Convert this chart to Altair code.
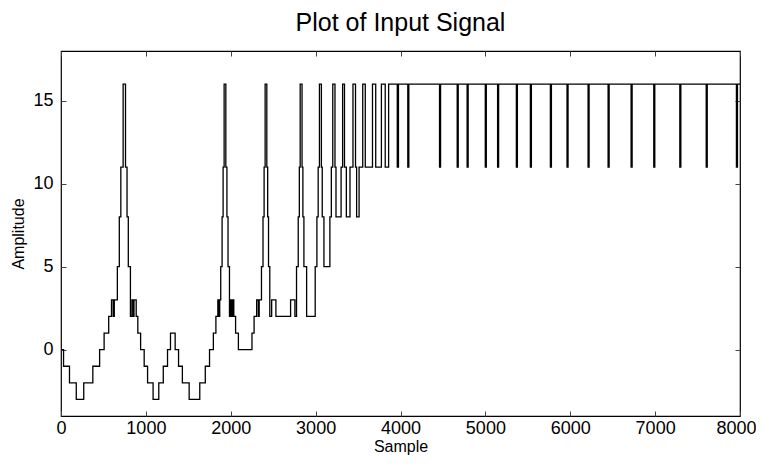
import altair as alt
import pandas as pd

# Step signal: sample index where each level starts, and the level value
starts = [0, 30, 100, 180, 268, 375, 455, 508, 562, 595, 615, 628, 664, 687, 705, 732,
          760, 778, 793, 818, 836, 852, 860, 886, 905, 938, 980, 1020, 1085, 1152, 1205,
          1255, 1290, 1345, 1385, 1430, 1510, 1635, 1700, 1750, 1795, 1825, 1848, 1862,
          1870, 1882, 1898, 1910, 1922, 1942, 1955, 1968, 1985, 2000, 2015, 2022, 2036,
          2057, 2090, 2250, 2275, 2305, 2325, 2335, 2362, 2380, 2393, 2405, 2425, 2435,
          2445, 2460, 2482, 2532, 2705, 2756, 2775, 2795, 2808, 2818, 2840, 2850, 2862,
          2894, 2995, 3015, 3030, 3045, 3068, 3078, 3098, 3168, 3185, 3202, 3228, 3240,
          3300, 3318, 3340, 3362, 3405, 3440, 3470, 3483, 3512, 3555, 3585, 3670, 3708,
          3775, 3820, 3860, 3962, 3976,
          4086, 4098, 4460, 4472, 4668, 4680, 4785, 4797, 4999, 5011, 5144, 5156,
          5365, 5377, 5530, 5542, 5766, 5778, 5962, 5974, 6210, 6222, 6446, 6458,
          6717, 6729, 6984, 6996, 7291, 7303, 7602, 7614, 7958, 7970, 8000]
levels = [0, -1, -2, -3, -2, -1, 0, 1, 2, 3, 2, 3, 5, 8, 11, 16,
          11, 8, 5, 2, 3, 2, 3, 2, 1, 0, -1, -2, -3, -2, -1,
          0, 1, 0, -1, -2, -3, -2, -1, 0, 1, 2, 3, 2,
          3, 5, 8, 11, 16, 11, 8, 5, 2, 3, 2, 3, 2,
          1, 0, 1, 2, 3, 2, 3, 5, 8, 11, 16, 11, 8,
          5, 2, 3, 2, 3, 2, 5, 8, 11, 16, 11, 8, 5,
          2, 5, 8, 11, 16, 11, 8, 5, 8, 11, 16, 11, 8,
          11, 16, 11, 8, 11, 16, 11, 8, 11, 16, 11, 16, 11,
          16, 11, 16, 11, 16,
          11, 16, 11, 16, 11, 16, 11, 16, 11, 16, 11, 16,
          11, 16, 11, 16, 11, 16, 11, 16, 11, 16, 11, 16,
          11, 16, 11, 16, 11, 16, 11, 16, 11, 16, 16]

x_ticks = [0, 1000, 2000, 3000, 4000, 5000, 6000, 7000, 8000]
y_ticks = [0, 5, 10, 15]

df = pd.DataFrame({"Sample": starts, "Amplitude": levels})

FONT = "Liberation Sans"
xscale = alt.Scale(domain=[0, 8000], nice=False, zero=False)
yscale = alt.Scale(domain=[-4, 18], nice=False, zero=False)

main = alt.Chart(df).mark_line(
    interpolate="step-after", color="black", strokeWidth=1.3, clip=True
).encode(
    x=alt.X("Sample:Q", scale=xscale,
            axis=alt.Axis(values=x_ticks, orient="bottom", domain=False, offset=-5,
                          tickSize=5, tickColor="#444", labelPadding=3, format="d",
                          labelOffset={"condition": {"test": "datum.value === 8000", "value": -4},
                                       "value": 0},
                          labelFont=FONT, labelFontSize=18, labelColor="black",
                          title="Sample", titleFont=FONT, titleFontSize=16,
                          titleFontWeight="normal", titleColor="black", titlePadding=1,
                          grid=False, labelFlush=False)),
    y=alt.Y("Amplitude:Q", scale=yscale,
            axis=alt.Axis(values=y_ticks, orient="left", domain=False, offset=-5,
                          tickSize=5, tickColor="#444", labelPadding=8, format="d",
                          labelFont=FONT, labelFontSize=18, labelColor="black",
                          title="Amplitude", titleFont=FONT, titleFontSize=16,
                          titleFontWeight="normal", titleColor="black", titlePadding=6,
                          grid=False)),
)

frame = alt.Chart(df).mark_line(opacity=0).encode(
    x=alt.X("Sample:Q", scale=xscale,
            axis=alt.Axis(values=x_ticks, orient="top", domain=False, offset=-5,
                          tickSize=5, tickColor="#444", labels=False, title=None,
                          grid=False)),
    y=alt.Y("Amplitude:Q", scale=yscale,
            axis=alt.Axis(values=y_ticks, orient="right", domain=False, offset=-5,
                          tickSize=5, tickColor="#444", labels=False, title=None,
                          grid=False)),
)

chart = alt.layer(main, frame).resolve_axis(x="independent", y="independent").properties(
    width=679, height=365,
    title=alt.TitleParams("Plot of Input Signal", font=FONT, fontSize=25,
                          fontWeight="normal", color="black", offset=15),
    autosize=alt.AutoSizeParams(type="none"),
    padding={"left": 53, "top": 43, "right": 16, "bottom": 47},
).configure_view(stroke="black", strokeWidth=1.2)

chart.save("out.html", embed_options={"renderer": "svg", "actions": False})
